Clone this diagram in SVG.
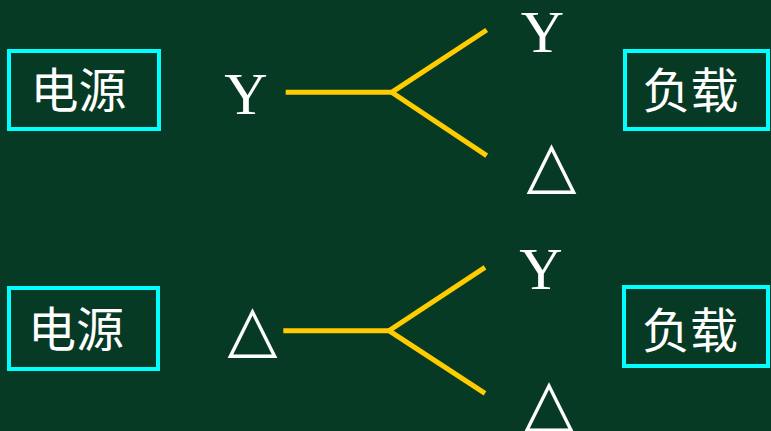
<svg xmlns="http://www.w3.org/2000/svg" width="771" height="431" viewBox="0 0 771 431">
<style>
.box{fill:none;stroke:#00FFFF;stroke-width:4}
.cjk{font-family:"Noto Sans CJK SC",sans-serif;font-size:48px;fill:#FFFFFF;text-anchor:middle}
.y{font-family:"Liberation Serif",serif;font-size:60px;fill:#FFFFFF;text-anchor:middle}
.tri{font-family:"DejaVu Sans",sans-serif;font-size:65px;fill:#FFFFFF;text-anchor:middle}
.wire{fill:none;stroke:#FFCC00;stroke-width:5;stroke-linejoin:miter}
</style>
<rect width="771" height="431" fill="#073A24"/>
<g id="source1"><rect class="box" x="9" y="51" width="150" height="78"/><text class="cjk" x="78.5" y="108">电源</text></g>
<g id="load1"><rect class="box" x="625" y="51" width="143" height="78"/><text class="cjk" x="690.5" y="108">负载</text></g>
<g id="source2"><rect class="box" x="9" y="288" width="149" height="81"/><text class="cjk" x="76" y="347">电源</text></g>
<g id="load2"><rect class="box" x="624" y="287" width="144" height="79"/><text class="cjk" x="690" y="348">负载</text></g>
<g id="labels">
<text class="y" x="246" y="114">Y</text>
<text class="y" x="542.5" y="52">Y</text>
<text class="tri" x="551.5" y="186">△</text>
<text class="tri" x="252.5" y="350">△</text>
<text class="y" x="541" y="289">Y</text>
<text class="tri" x="549" y="424">△</text>
</g>
<g id="connectors">
<polyline class="wire" points="285.7,92.3 391.7,92.3"/>
<polyline class="wire" points="486.7,30 391.7,92.3 486.7,155.7"/>
<polyline class="wire" points="283.3,330.7 389,330.7"/>
<polyline class="wire" points="485,267.3 389,330.7 485,393.3"/>
</g>
</svg>
